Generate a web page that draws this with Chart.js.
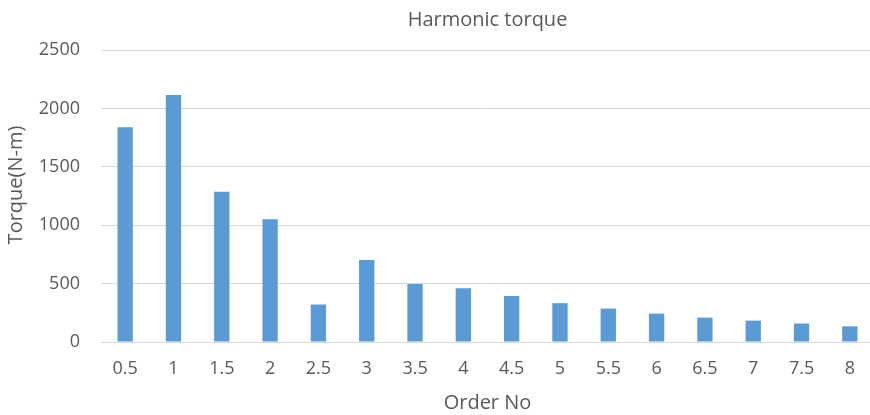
<!DOCTYPE html>
<html>
<head>
<meta charset="utf-8">
<script src="https://cdn.jsdelivr.net/npm/chart.js@4"></script>
<style>
  html, body { margin: 0; padding: 0; overflow: hidden; background: #fff; }
  #wrap { width: 875px; height: 415px; }
</style>
</head>
<body>
<div id="wrap"><canvas id="chart" width="875" height="415"></canvas></div>
<script>
// Harmonic order numbers and torque amplitude (N-m)
const orders = ['0.5', '1', '1.5', '2', '2.5', '3', '3.5', '4', '4.5', '5', '5.5', '6', '6.5', '7', '7.5', '8'];
const torque = [1838, 2115, 1286, 1052, 321, 703, 497, 460, 394, 332, 286, 243, 209, 183, 158, 134];
const yTicks = [0, 500, 1000, 1500, 2000, 2500];
const yTitle = 'Torque(N-m)';

const textColor = '#595959';
const gridColor = '#D9D9D9';
const fontFamily = '"Open Sans", "DejaVu Sans", sans-serif';

// Vertical axis caption, drawn a little above the plot's middle
const yTitlePlugin = {
  id: 'yTitle',
  afterDraw(chart) {
    const ctx = chart.ctx;
    const area = chart.chartArea;
    ctx.save();
    ctx.translate(16, (area.top + area.bottom) / 2 - 11);
    ctx.rotate(-Math.PI / 2);
    ctx.font = '20px ' + fontFamily;
    ctx.fillStyle = textColor;
    ctx.textAlign = 'center';
    ctx.textBaseline = 'middle';
    ctx.fillText(yTitle, 0, 0);
    ctx.restore();
  }
};

new Chart(document.getElementById('chart'), {
  type: 'bar',
  data: {
    labels: orders,
    datasets: [{
      label: 'Torque',
      data: torque,
      backgroundColor: '#5B9BD5',
      borderWidth: 0,
      barPercentage: 0.317,
      categoryPercentage: 1.0
    }]
  },
  options: {
    responsive: false,
    animation: false,
    layout: { padding: { left: 0, right: 1, top: 0, bottom: 0 } },
    plugins: {
      legend: { display: false },
      tooltip: { enabled: false },
      title: {
        display: true,
        text: 'Harmonic torque',
        color: textColor,
        fullSize: false,
        font: { family: fontFamily, size: 20, weight: 'normal', lineHeight: 1.2 },
        padding: { top: 8, bottom: 18 }
      }
    },
    scales: {
      x: {
        grid: { display: false, drawTicks: false },
        border: { display: true, color: gridColor, width: 1 },
        ticks: {
          color: textColor,
          font: { family: fontFamily, size: 18 },
          padding: 16,
          maxRotation: 0,
          autoSkip: false
        },
        title: {
          display: true,
          text: 'Order No',
          color: textColor,
          font: { family: fontFamily, size: 20, lineHeight: 1.2 },
          padding: { top: 4, bottom: 0 }
        },
        afterFit: (scale) => { scale.height = 73; }
      },
      y: {
        min: 0,
        max: 2500,
        afterBuildTicks: (scale) => { scale.ticks = yTicks.map(v => ({ value: v })); },
        grid: { color: gridColor, lineWidth: 1, drawTicks: false },
        border: { display: false },
        ticks: {
          color: textColor,
          font: { family: fontFamily, size: 18 },
          padding: 21,
          callback: (v) => String(v)
        },
        title: { display: false },
        afterFit: (scale) => { scale.width = 101; }
      }
    }
  },
  plugins: [yTitlePlugin]
});
</script>
</body>
</html>
